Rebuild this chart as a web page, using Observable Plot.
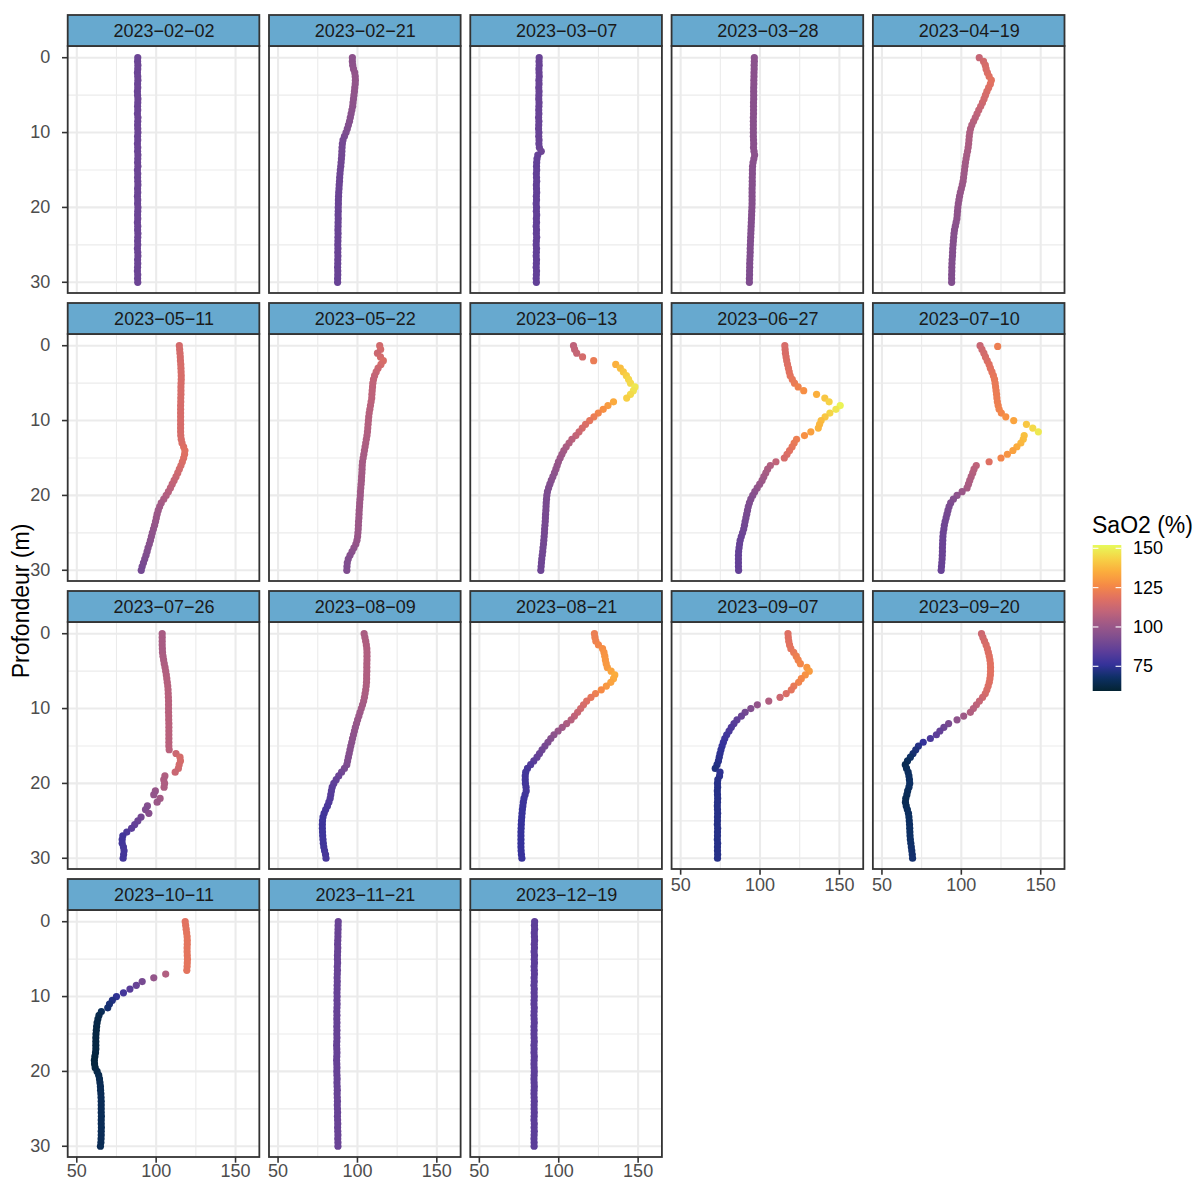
<!DOCTYPE html>
<html><head><meta charset="utf-8">
<script src="https://cdn.jsdelivr.net/npm/d3@7"></script>
<script src="https://cdn.jsdelivr.net/npm/@observablehq/plot@0.6"></script>
<style>html,body{margin:0;padding:0;background:#fff;overflow:hidden;} #chart{width:1198px;height:1180px;}</style>
</head><body><div id="chart"></div>
<script>
// ---------- data ----------
const dates = ["2023-02-02","2023-02-21","2023-03-07","2023-03-28","2023-04-19",
               "2023-05-11","2023-05-22","2023-06-13","2023-06-27","2023-07-10",
               "2023-07-26","2023-08-09","2023-08-21","2023-09-07","2023-09-20",
               "2023-10-11","2023-11-21","2023-12-19"];

// depth (m) of each reading
const depths = [0,0.5,1,1.5,2,2.5,3,3.5,4,4.5,
                5,5.5,6,6.5,7,7.5,8,8.5,9,9.5,
                10,10.5,11,11.5,12,12.5,13,13.5,14,14.5,
                15,15.5,16,16.5,17,17.5,18,18.5,19,19.5,
                20,20.5,21,21.5,22,22.5,23,23.5,24,24.5,
                25,25.5,26,26.5,27,27.5,28,28.5,29,29.5,
                30];

// SaO2 (%) readings at each depth, one array per date
const sat_0202 = [88.4,88.3,88.5,88.4,88.2,88.4,88.5,88.3,88.4,88.2,
 88.3,88.5,88.4,88.3,88.4,88.2,88.5,88.4,88.3,88.4,
 88.5,88.3,88.4,88.2,88.4,88.3,88.5,88.4,88.3,88.5,
 88.2,88.4,88.3,88.4,88.5,88.3,88.4,88.2,88.4,88.3,
 88.5,88.4,88.3,88.4,88.2,88.4,88.3,88.5,88.4,88.3,
 88.4,88.2,88.4,88.5,88.3,88.4,88.3,88.2,88.4,88.3,
 88.4];
const sat_0221 = [96.8,96.8,97.0,97.5,98.3,98.6,98.7,98.6,98.3,98.1,
 97.8,97.5,97.2,97.0,96.5,96.0,95.5,95.0,94.3,93.6,
 92.8,91.8,90.9,90.5,90.3,90.2,90.1,89.9,89.7,89.5,
 89.2,89.0,88.8,88.7,88.5,88.4,88.2,88.1,88.0,88.0,
 87.9,87.9,87.8,87.9,87.8,87.8,87.7,87.8,87.7,87.7,
 87.6,87.7,87.6,87.7,87.6,87.6,87.5,87.6,87.6,87.5,
 87.5];
const sat_0307 = [87.7,87.6,87.7,87.5,87.6,87.7,87.5,87.6,87.4,87.6,
 87.5,87.4,87.6,87.5,87.4,87.5,87.3,87.5,87.4,87.3,
 87.5,87.4,87.6,87.5,87.8,89.0,86.8,86.3,86.1,86.0,
 86.1,85.9,86.0,86.1,85.9,86.0,86.1,85.9,86.0,85.8,
 86.0,85.9,86.1,85.9,86.0,85.8,86.0,85.9,86.1,85.9,
 85.8,86.0,85.9,85.8,86.0,85.9,85.8,86.0,85.9,85.8,
 85.9];
const sat_0328 = [96.4,96.4,96.3,96.3,96.2,96.2,96.1,96.1,96.0,96.0,
 96.0,96.0,95.9,95.9,95.9,95.9,95.8,95.8,95.8,95.8,
 95.8,95.8,95.9,96.0,95.9,96.2,96.6,96.1,95.6,95.3,
 95.2,95.2,95.1,95.1,95.1,95.0,95.0,95.0,95.0,95.0,
 94.9,94.8,94.7,94.6,94.5,94.4,94.3,94.2,94.1,94.0,
 93.9,93.8,93.8,93.7,93.6,93.5,93.5,93.4,93.4,93.3,
 93.3];
const sat_0419 = [111.3,114.0,115.1,115.6,116.4,117.5,118.9,118.3,117.2,116.1,
 115.2,114.3,113.3,112.2,111.0,109.9,108.8,107.7,106.6,105.8,
 105.3,105.0,104.8,104.6,104.3,103.9,103.4,103.0,102.6,102.3,
 102.0,101.7,101.4,101.1,100.6,100.0,99.4,98.9,98.5,98.1,
 97.8,97.6,97.4,97.2,96.7,96.2,95.7,95.4,95.2,95.0,
 94.8,94.6,94.5,94.4,94.2,94.1,94.0,94.0,93.9,93.9,
 93.9];
const sat_0511 = [114.6,114.8,115.0,115.2,115.3,115.5,115.6,115.7,115.8,115.8,
 115.7,115.6,115.6,115.6,115.5,115.5,115.4,115.4,115.4,115.4,
 115.4,115.4,115.4,115.4,115.5,115.8,116.3,117.3,118.1,117.9,
 117.3,116.5,115.6,114.6,113.6,112.5,111.3,110.1,109.0,107.7,
 106.3,104.8,103.2,102.2,101.3,100.6,100.1,99.6,99.0,98.3,
 97.6,97.0,96.4,95.7,94.9,94.3,93.6,92.8,92.0,91.2,
 90.6];
const sat_0522 = [114.0,114.6,112.6,114.5,116.3,114.8,113.0,111.8,110.8,110.1,
 109.7,109.5,109.3,109.1,109.0,108.6,108.2,107.8,107.4,107.1,
 106.9,106.7,106.5,106.3,106.0,105.6,105.2,104.8,104.4,104.0,
 103.6,103.2,103.0,102.9,102.8,102.6,102.5,102.3,102.1,101.9,
 101.8,101.6,101.4,101.3,101.1,101.0,100.9,100.7,100.6,100.5,
 100.3,100.1,99.7,99.0,97.8,96.6,95.3,94.2,93.6,93.4,
 93.3];
const sat_0613 = [109.3,110.0,111.3,115.0,122.0,135.9,138.8,140.7,142.6,144.0,
 145.2,148.0,147.0,145.2,142.8,134.5,131.0,128.0,124.9,122.2,
 119.5,116.9,114.8,112.8,110.8,108.3,106.5,104.7,103.2,102.0,
 100.9,99.8,99.0,98.2,97.3,96.3,95.3,94.4,93.6,92.9,
 92.5,92.3,92.1,92.0,91.9,91.7,91.6,91.5,91.3,91.1,
 91.0,90.8,90.6,90.4,90.1,89.9,89.6,89.3,89.1,88.9,
 88.7];
const sat_0627 = [115.6,115.8,116.0,116.4,116.8,117.3,117.9,118.4,119.0,120.3,
 121.7,124.0,127.5,135.6,140.8,143.5,150.5,147.8,144.0,141.0,
 138.5,137.5,136.7,132.0,128.0,123.0,121.5,120.2,118.6,117.0,
 115.3,110.0,106.5,104.8,103.6,102.4,101.3,99.8,98.2,96.7,
 95.4,94.2,93.3,92.6,92.1,91.6,91.1,90.6,90.2,89.7,
 89.0,88.2,87.5,87.1,86.8,86.5,86.4,86.4,86.4,86.4,
 86.5];
const sat_0710 = [111.8,113.0,114.2,115.2,116.3,117.5,118.3,119.3,120.2,120.9,
 121.3,121.6,121.9,122.2,122.4,122.7,123.2,123.8,125.2,128.0,
 133.0,141.0,145.0,148.5,139.6,139.0,137.5,135.0,132.5,129.0,
 125.0,117.5,109.4,108.0,107.2,106.2,105.3,104.5,103.6,100.5,
 97.3,95.0,93.3,92.3,91.6,91.0,90.4,89.8,89.3,89.0,
 88.6,88.4,88.3,88.2,88.1,88.1,88.0,87.9,87.7,87.5,
 87.3];
const sat_0726 = [103.8,103.8,103.8,103.8,103.9,104.0,104.3,104.7,105.1,105.6,
 106.0,106.4,106.7,107.0,107.3,107.5,107.6,107.7,107.8,107.8,
 107.8,107.8,107.9,107.9,108.0,108.0,108.0,108.0,108.0,108.0,
 108.0,108.2,112.5,115.0,115.3,114.5,114.0,112.0,105.5,104.8,
 105.3,105.0,99.5,98.5,102.5,100.6,94.5,93.3,95.4,90.5,
 88.5,86.5,84.5,81.5,79.0,78.6,78.6,79.4,79.8,79.5,
 79.2];
const sat_0809 = [104.2,104.7,105.2,105.6,105.9,106.0,106.0,106.0,105.9,105.9,
 105.9,105.8,105.8,105.7,105.5,105.2,104.8,104.4,103.9,103.2,
 102.4,101.6,100.9,100.1,99.4,98.7,98.1,97.5,96.9,96.4,
 95.8,95.3,94.8,94.3,93.8,93.3,91.8,90.0,88.2,86.6,
 85.1,84.1,83.6,83.2,82.8,82.0,81.1,80.0,79.0,78.3,
 78.0,77.9,77.9,78.0,78.1,78.3,78.5,78.8,79.3,79.9,
 80.2];
const sat_0821 = [122.5,122.8,123.4,125.0,127.6,128.5,129.0,129.4,129.9,130.6,
 133.0,135.3,134.5,132.8,130.0,126.8,123.2,120.3,117.6,115.6,
 113.8,111.9,109.9,107.8,105.0,102.2,99.6,97.0,95.0,93.2,
 91.3,89.5,87.9,86.3,84.3,82.3,80.3,79.2,78.9,78.9,
 79.0,79.4,79.5,78.8,78.1,77.7,77.4,77.1,76.9,76.7,
 76.5,76.4,76.3,76.2,76.2,76.2,76.2,76.2,76.3,76.5,
 76.8];
const sat_0907 = [117.6,117.8,118.1,118.6,119.4,121.2,122.8,124.0,125.4,129.5,
 131.0,128.5,126.0,124.3,121.3,119.7,116.5,112.6,105.5,98.3,
 94.2,90.6,88.3,85.5,83.6,81.9,80.5,79.0,77.8,76.9,
 76.1,75.4,74.8,74.3,73.8,72.9,71.8,74.8,74.5,73.4,
 73.2,73.3,73.1,73.2,73.3,73.2,73.1,73.2,73.3,73.2,
 73.2,73.1,73.3,73.2,73.2,73.1,73.3,73.2,73.2,73.3,
 73.2];
const sat_0920 = [112.7,113.6,114.6,115.6,116.4,117.0,117.6,118.0,118.3,118.4,
 118.4,118.3,118.0,117.6,116.9,116.1,115.1,113.4,111.4,109.5,
 107.6,105.7,101.5,97.3,92.0,89.0,86.5,84.3,80.5,76.0,
 73.0,71.3,69.6,67.9,66.1,64.7,65.5,66.5,67.0,67.3,
 67.5,67.0,66.2,65.7,65.0,64.8,65.3,66.0,66.7,67.0,
 67.2,67.4,67.5,67.6,67.7,67.9,68.2,68.5,68.8,69.1,
 69.3];
const sat_1011 = [118.3,118.6,118.9,119.2,119.5,119.6,119.6,119.5,119.5,119.6,
 119.7,119.6,119.5,119.3,106.0,98.5,91.2,87.5,83.5,79.4,
 75.0,72.4,70.6,69.5,65.5,64.0,63.3,62.8,62.5,62.3,
 62.1,62.0,62.0,62.0,62.0,61.8,61.4,61.1,61.2,61.6,
 62.8,63.8,64.3,64.6,64.9,65.0,65.2,65.3,65.4,65.4,
 65.4,65.4,65.5,65.4,65.4,65.5,65.4,65.4,65.3,65.2,
 64.9];
const sat_1121 = [87.9,87.8,87.8,87.7,87.7,87.6,87.5,87.6,87.5,87.4,
 87.4,87.5,87.3,87.4,87.3,87.2,87.3,87.2,87.2,87.1,
 87.2,87.1,87.2,87.1,87.0,87.1,87.0,87.1,87.0,87.1,
 87.0,87.1,87.0,86.9,87.0,87.1,87.0,86.9,87.0,87.1,
 87.0,87.1,87.2,87.1,87.2,87.3,87.2,87.3,87.4,87.3,
 87.4,87.5,87.4,87.5,87.6,87.5,87.6,87.7,87.6,87.7,
 87.7];
const sat_1219 = [84.8,84.7,84.8,84.6,84.7,84.8,84.6,84.7,84.5,84.7,
 84.6,84.7,84.5,84.6,84.7,84.5,84.6,84.4,84.6,84.5,
 84.6,84.5,84.4,84.6,84.5,84.4,84.5,84.6,84.4,84.5,
 84.4,84.5,84.6,84.4,84.5,84.4,84.6,84.5,84.4,84.5,
 84.6,84.5,84.4,84.5,84.6,84.5,84.4,84.5,84.6,84.5,
 84.5,84.6,84.5,84.4,84.6,84.5,84.6,84.5,84.4,84.5,
 84.5];

// isolated readings off the main profile
const extraDates  = ["2023-07-10"];
const extraDepths = [0.1];
const extraSat    = [122.9];

// axis ticks
const xMajor = [50, 100, 150];
const xMinor = [75, 125];
const yMajor = [0, 10, 20, 30];
const yMinor = [5, 15, 25];
const legendTicks = [75, 100, 125, 150];

// ---------- configuration ----------
const profiles = [sat_0202, sat_0221, sat_0307, sat_0328, sat_0419, sat_0511, sat_0522, sat_0613, sat_0627,
                  sat_0710, sat_0726, sat_0809, sat_0821, sat_0907, sat_0920, sat_1011, sat_1121, sat_1219];
const NCOL = 5, NROW = 4;
const X_DOMAIN = [44.6, 165.3];
const Y_TOP = -1.5, Y_BOT = 31.5, STRIP_TOP = -5.64;
const COLOR_DOMAIN = [59.3, 152.1];
const thermal = ["rgb(3,35,51)","rgb(13,48,100)","rgb(53,50,155)","rgb(93,62,153)","rgb(126,77,143)","rgb(158,89,135)",
                 "rgb(193,100,121)","rgb(225,113,97)","rgb(246,139,69)","rgb(251,173,60)","rgb(246,211,70)","rgb(231,250,90)"];
const FONT = "'Liberation Sans', Arial, Helvetica, sans-serif";
const PX_PER_X = 191.7 / (X_DOMAIN[1] - X_DOMAIN[0]);
const PX_PER_Y = 278 / (Y_BOT - STRIP_TOP);

const panels = dates.map((d, i) => ({
  date: d, label: d.replace(/-/g, "\u2212"),
  col: i % NCOL, row: Math.floor(i / NCOL), bottom: i + NCOL >= dates.length
}));
const points = [];
panels.forEach((p, i) => profiles[i].forEach((v, j) => points.push({col: p.col, row: p.row, depth: depths[j], sat: v})));
extraDates.forEach((d, k) => { const p = panels[dates.indexOf(d)]; points.push({col: p.col, row: p.row, depth: extraDepths[k], sat: extraSat[k]}); });

const cross = (ps, ticks) => ps.flatMap(p => ticks.map(t => ({col: p.col, row: p.row, t})));
const leftPanels = panels.filter(p => p.col === 0);
const bottomPanels = panels.filter(p => p.bottom);
const bottomInner = bottomPanels.filter(p => p.row < NROW - 1);
const bottomLast = bottomPanels.filter(p => p.row === NROW - 1);
const F = {fx: "col", fy: "row"};

const colorOpts = {type: "linear", domain: COLOR_DOMAIN, interpolate: d3.piecewise(d3.interpolateRgb, thermal)};

const plot = Plot.plot({
  width: 1198, height: 1180,
  marginLeft: 67.7, marginRight: 133.5, marginTop: 15, marginBottom: 23,
  facetMarginTop: 0, facetMarginRight: 0, facetMarginBottom: 0, facetMarginLeft: 0,
  style: {fontFamily: FONT, fontSize: "18px", background: "white", overflow: "visible"},
  x: {domain: X_DOMAIN, axis: null},
  y: {domain: [STRIP_TOP, Y_BOT], reverse: true, axis: null},
  fx: {domain: [0, 1, 2, 3, 4], axis: null, paddingInner: 0.048, paddingOuter: 0, round: false},
  fy: {domain: [0, 1, 2, 3], axis: null, paddingInner: 0.0347, paddingOuter: 0, round: false},
  color: colorOpts,
  marks: [
    // grid
    Plot.ruleY(cross(panels, yMinor), {...F, y: "t", x1: X_DOMAIN[0], x2: X_DOMAIN[1], stroke: "#ebebeb", strokeWidth: 1.1}),
    Plot.ruleX(cross(panels, xMinor), {...F, x: "t", y1: Y_TOP, y2: Y_BOT, stroke: "#ebebeb", strokeWidth: 1.1}),
    Plot.ruleY(cross(panels, yMajor), {...F, y: "t", x1: X_DOMAIN[0], x2: X_DOMAIN[1], stroke: "#ebebeb", strokeWidth: 2.1}),
    Plot.ruleX(cross(panels, xMajor), {...F, x: "t", y1: Y_TOP, y2: Y_BOT, stroke: "#ebebeb", strokeWidth: 2.1}),
    // data
    Plot.dot(points, {...F, x: "sat", y: "depth", fill: "sat", r: 3.6}),
    // panel borders
    Plot.rect(panels, {...F, x1: X_DOMAIN[0], x2: X_DOMAIN[1], y1: Y_TOP, y2: Y_BOT, fill: "none", stroke: "#333333", strokeWidth: 1.8}),
    // strips
    Plot.rect(panels, {...F, x1: X_DOMAIN[0], x2: X_DOMAIN[1], y1: STRIP_TOP, y2: Y_TOP, fill: "#67a9cf", stroke: "#333333", strokeWidth: 1.8}),
    Plot.text(panels, {...F, x: (X_DOMAIN[0] + X_DOMAIN[1]) / 2, y: (STRIP_TOP + Y_TOP) / 2, text: "label", fontSize: 18, fill: "#1a1a1a"}),
    // y axis (left column)
    Plot.ruleY(cross(leftPanels, yMajor), {...F, y: "t", x1: X_DOMAIN[0] - 5.7 / PX_PER_X, x2: X_DOMAIN[0], stroke: "#333333", strokeWidth: 1.6}),
    Plot.text(cross(leftPanels, yMajor), {...F, x: X_DOMAIN[0], y: "t", text: d => String(d.t), textAnchor: "end", dx: -18, fontSize: 18, fill: "#4d4d4d"}),
    // x axis (panels with nothing below)
    Plot.ruleX(cross(bottomPanels, xMajor), {...F, x: "t", y1: Y_BOT, y2: Y_BOT + 5.7 / PX_PER_Y, stroke: "#333333", strokeWidth: 1.6}),
    Plot.text(cross(bottomInner, xMajor), {...F, x: "t", y: Y_BOT, dy: 15.5, text: d => String(d.t), fontSize: 18, fill: "#4d4d4d"}),
    Plot.text(cross(bottomLast, xMajor), {...F, x: "t", y: Y_BOT, dy: 13.3, text: d => String(d.t), fontSize: 18, fill: "#4d4d4d"})
  ]
});
document.getElementById("chart").appendChild(plot);

// ---------- axis title & colour legend ----------
const svg = d3.select(plot.tagName.toLowerCase() === "svg" ? plot : plot.querySelector("svg"));
svg.append("text")
  .attr("transform", "translate(21,601) rotate(-90)")
  .attr("text-anchor", "middle").attr("dominant-baseline", "central")
  .attr("font-family", FONT).attr("font-size", 23).attr("fill", "#000")
  .text("Profondeur (m)");

const cscale = Plot.scale({color: colorOpts});
const LX = 1092.7, LY = 545, LW = 28.6, LH = 146;
const ly = v => LY + (COLOR_DOMAIN[1] - v) / (COLOR_DOMAIN[1] - COLOR_DOMAIN[0]) * LH;
const grad = svg.append("defs").append("linearGradient").attr("id", "sao2grad")
  .attr("x1", 0).attr("y1", 0).attr("x2", 0).attr("y2", 1);
d3.range(0, 41).forEach(k => {
  const t = k / 40;
  grad.append("stop").attr("offset", t).attr("stop-color", cscale.apply(COLOR_DOMAIN[1] - t * (COLOR_DOMAIN[1] - COLOR_DOMAIN[0])));
});
const lg = svg.append("g").attr("font-family", FONT).attr("text-anchor", "start");
lg.append("text").attr("x", 1092).attr("y", 532.7).attr("text-anchor", "start").attr("font-size", 23).attr("fill", "#000").text("SaO2 (%)");
lg.append("rect").attr("x", LX).attr("y", LY).attr("width", LW).attr("height", LH).attr("fill", "url(#sao2grad)");
legendTicks.forEach(v => {
  const y = ly(v);
  lg.append("line").attr("x1", LX).attr("x2", LX + LW / 5).attr("y1", y).attr("y2", y).attr("stroke", "#fff").attr("stroke-width", 1.1);
  lg.append("line").attr("x1", LX + LW * 4 / 5).attr("x2", LX + LW).attr("y1", y).attr("y2", y).attr("stroke", "#fff").attr("stroke-width", 1.1);
  lg.append("text").attr("x", 1133).attr("y", y).attr("text-anchor", "start").attr("dominant-baseline", "central").attr("font-size", 18).attr("fill", "#000").text(String(v));
});
</script>
</body></html>
